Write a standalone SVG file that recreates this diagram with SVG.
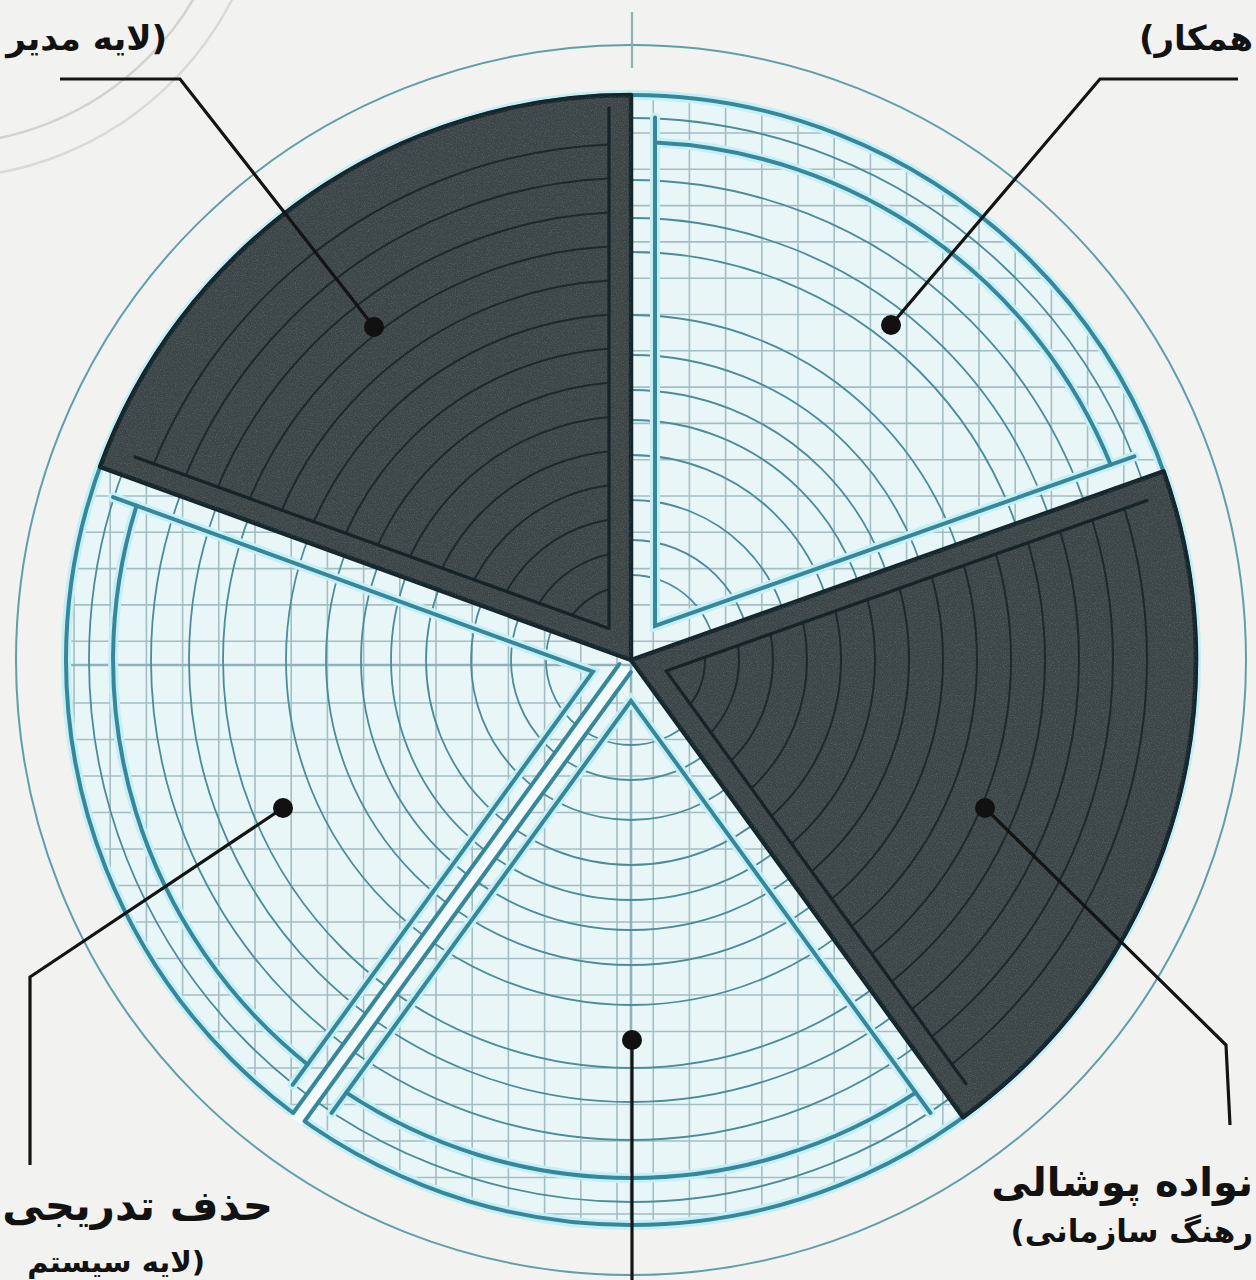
<svg xmlns="http://www.w3.org/2000/svg" width="1256" height="1280" viewBox="0 0 1256 1280">
<style>
.lbl{font-family:"DejaVu Sans","Noto Sans",sans-serif;font-weight:bold;fill:#121212}
.grid{stroke:#a3bec3;stroke-width:1.6;fill:none}
.thin{stroke:#4a8c99;stroke-width:1.8;fill:none}
.thick{stroke:#37879a;stroke-width:4;fill:none;stroke-linecap:round}
.glow{stroke:#c6eff5;stroke-width:10;fill:none;stroke-linecap:round}
.darkfill{fill:#3b4447;stroke:#14252b;stroke-width:4.5;stroke-linejoin:round}
.darkarc{stroke:#1d292e;stroke-width:2;fill:none}
.darkin{stroke:#16242a;stroke-width:3.2;fill:none;stroke-linecap:round;stroke-linejoin:round}
.lead{stroke:#141414;stroke-width:3.2;fill:none;stroke-linejoin:miter}
.dot{fill:#111}
</style>
<defs>
<clipPath id="disk"><circle cx="631" cy="660" r="565"/></clipPath>
<clipPath id="clipTL"><polygon points="609,628.6 609,-60 -210,-60 -207.2,331.5"/></clipPath>
<clipPath id="clipR"><polygon points="666.1,670.9 1486.6,380.3 1500,1400 1177.8,1375.2"/></clipPath>
<filter id="grain" filterUnits="userSpaceOnUse" x="0" y="0" width="1256" height="1280">
<feTurbulence type="fractalNoise" baseFrequency="0.85" numOctaves="3" seed="7" result="noise"/>
<feColorMatrix in="noise" type="matrix" values="0 0 0 0 0.78  0 0 0 0 0.82  0 0 0 0 0.82  0.7 0 0 0 -0.3" result="spk"/>
<feComposite in="spk" in2="SourceGraphic" operator="in"/>
</filter>
</defs>
<rect width="1256" height="1280" fill="#f2f2f0"/>
<g id="backdrop">
<circle cx="-60" cy="-150" r="294" fill="none" stroke="#d2d2d0" stroke-width="2.5"/>
<circle cx="-60" cy="-150" r="328" fill="none" stroke="#d9d9d7" stroke-width="2.5"/>
<circle cx="631" cy="660" r="615" fill="none" stroke="#5f9eab" stroke-width="2"/>
<line x1="632" y1="12" x2="632" y2="68" stroke="#8fb0b6" stroke-width="2.2"/>
</g>
<g id="disk-base">
<circle cx="631" cy="660" r="565" fill="#e9f6f8"/>
<g clip-path="url(#disk)">
<path class="grid" d="M74 80V1240M110.2 80V1240M146.4 80V1240M182.6 80V1240M218.8 80V1240M255 80V1240M291.2 80V1240M327.4 80V1240M363.6 80V1240M399.8 80V1240M436 80V1240M472.2 80V1240M508.4 80V1240M544.6 80V1240M580.8 80V1240M617 80V1240M653.2 80V1240M689.4 80V1240M725.6 80V1240M761.8 80V1240M798 80V1240M834.2 80V1240M870.4 80V1240M906.6 80V1240M942.8 80V1240M979 80V1240M1015.2 80V1240M1051.4 80V1240M1087.6 80V1240M1123.8 80V1240M1160 80V1240M1196.2 80V1240"/>
<path class="grid" d="M50 96.7H1210M50 133H1210M50 169.3H1210M50 205.6H1210M50 241.9H1210M50 278.2H1210M50 314.5H1210M50 350.8H1210M50 387.1H1210M50 423.4H1210M50 459.7H1210M50 496H1210M50 532.3H1210M50 568.6H1210M50 604.9H1210M50 641.2H1210M50 703H1210M50 739.5H1210M50 776H1210M50 812.5H1210M50 849H1210M50 885.5H1210M50 922H1210M50 958.5H1210M50 995H1210M50 1031.5H1210M50 1068H1210M50 1104.5H1210M50 1141H1210M50 1177.5H1210M50 1214H1210"/>
<path d="M50 665H1210M631 80V1240" stroke="#8fb3ba" stroke-width="2.6" fill="none"/>
</g>
<g id="light-arcs">
<circle class="thin" cx="631" cy="660" r="85"/>
<circle class="thin" cx="631" cy="660" r="120"/>
<circle class="thin" cx="631" cy="660" r="160"/>
<circle class="thin" cx="631" cy="660" r="205"/>
<circle class="thin" cx="631" cy="660" r="240"/>
<circle class="thin" cx="631" cy="660" r="270"/>
<circle class="thin" cx="631" cy="660" r="305"/>
<circle class="thin" cx="631" cy="660" r="345"/>
<circle class="thin" cx="631" cy="660" r="408"/>
<circle class="thin" cx="631" cy="660" r="442"/>
<circle class="thin" cx="631" cy="660" r="480"/>
<circle class="thin" cx="631" cy="660" r="542"/>
</g>
</g>
<g id="wedge-top-right">
<path class="glow" d="M655 142.6A518 518 0 0 1 1110.7 464.7M655 117.5L655 626L1134.4 456.3"/>
<path class="thick" d="M655 142.6A518 518 0 0 1 1110.7 464.7"/>
<path class="thick" d="M655 117.5L655 626L1134.4 456.3" stroke-linejoin="miter"/>
</g>
<g id="wedge-bottom">
<path class="glow" d="M915.7 1092.7A518 518 0 0 1 346.3 1092.7M930.5 1113L631 700.8L331.5 1113"/>
<path class="thick" d="M915.7 1092.7A518 518 0 0 1 346.3 1092.7"/>
<path class="thick" d="M930.5 1113L631 700.8L331.5 1113" stroke-linejoin="miter"/>
</g>
<g id="wedge-left">
<path class="glow" d="M307.5 1064.5A518 518 0 0 1 136.6 505.6M292.7 1084.8L592.9 671.7L113 497.1"/>
<path class="thick" d="M307.5 1064.5A518 518 0 0 1 136.6 505.6"/>
<path class="thick" d="M292.7 1084.8L592.9 671.7L113 497.1" stroke-linejoin="miter"/>
</g>
<g id="rim">
<circle cx="631" cy="660" r="565" fill="none" stroke="#c6eff5" stroke-width="10"/>
<circle cx="631" cy="660" r="565" fill="none" stroke="#37879a" stroke-width="4"/>
<polygon points="619.4,664 630.8,672.2 301.7,1125.2 290.3,1117" fill="#f3fbfc"/>
<path class="thick" d="M619.4 664L293.2 1113M630.8 672.2L304.6 1121.2"/>
</g>
<g id="wedge-top-left">
<path class="darkfill" d="M631 660L100.1 466.8A565 565 0 0 1 631 95Z"/>
<path d="M631 660L100.1 466.8A565 565 0 0 1 631 95Z" fill="#fff" filter="url(#grain)" opacity="0.5"/>
<g clip-path="url(#clipTL)">
<circle class="darkarc" cx="631" cy="660" r="74"/>
<circle class="darkarc" cx="631" cy="660" r="108"/>
<circle class="darkarc" cx="631" cy="660" r="142"/>
<circle class="darkarc" cx="631" cy="660" r="176"/>
<circle class="darkarc" cx="631" cy="660" r="210"/>
<circle class="darkarc" cx="631" cy="660" r="244"/>
<circle class="darkarc" cx="631" cy="660" r="278"/>
<circle class="darkarc" cx="631" cy="660" r="312"/>
<circle class="darkarc" cx="631" cy="660" r="346"/>
<circle class="darkarc" cx="631" cy="660" r="380"/>
<circle class="darkarc" cx="631" cy="660" r="414"/>
<circle class="darkarc" cx="631" cy="660" r="448"/>
<circle class="darkarc" cx="631" cy="660" r="482"/>
<circle class="darkarc" cx="631" cy="660" r="516"/>
</g>
<path class="darkin" d="M609 108L609 628.6L135 457"/>
</g>
<g id="wedge-right">
<path class="darkfill" d="M631 660L1163.6 471.4A565 565 0 0 1 963.1 1117.1Z"/>
<path d="M631 660L1163.6 471.4A565 565 0 0 1 963.1 1117.1Z" fill="#fff" filter="url(#grain)" opacity="0.5"/>
<g clip-path="url(#clipR)">
<circle class="darkarc" cx="631" cy="660" r="74"/>
<circle class="darkarc" cx="631" cy="660" r="108"/>
<circle class="darkarc" cx="631" cy="660" r="142"/>
<circle class="darkarc" cx="631" cy="660" r="176"/>
<circle class="darkarc" cx="631" cy="660" r="210"/>
<circle class="darkarc" cx="631" cy="660" r="244"/>
<circle class="darkarc" cx="631" cy="660" r="278"/>
<circle class="darkarc" cx="631" cy="660" r="312"/>
<circle class="darkarc" cx="631" cy="660" r="346"/>
<circle class="darkarc" cx="631" cy="660" r="380"/>
<circle class="darkarc" cx="631" cy="660" r="414"/>
<circle class="darkarc" cx="631" cy="660" r="448"/>
<circle class="darkarc" cx="631" cy="660" r="482"/>
<circle class="darkarc" cx="631" cy="660" r="516"/>
</g>
<path class="darkin" d="M1146.9 500.6L666.1 670.9L965.9 1083.6"/>
</g>
<g id="connectors">
<polyline class="lead" points="60,79 180,79 374,327"/>
<circle class="dot" cx="374" cy="327" r="10"/>
<polyline class="lead" points="1238,79 1100,79 891,325"/>
<circle class="dot" cx="891" cy="325" r="10"/>
<polyline class="lead" points="985,808 1226,1045 1230,1125"/>
<circle class="dot" cx="985" cy="808" r="10"/>
<polyline class="lead" points="283,808 30,977 30,1165"/>
<circle class="dot" cx="283" cy="808" r="10"/>
<line class="lead" x1="632" y1="1040" x2="632" y2="1280"/>
<circle class="dot" cx="632" cy="1040" r="10"/>
</g>
<g id="label-top-left"><text class="lbl" x="167" y="50" font-size="34" direction="rtl" text-anchor="start">(لایه مدیر</text></g>
<g id="label-top-right"><text class="lbl" x="1253" y="50" font-size="34" direction="rtl" text-anchor="start">همکار)</text></g>
<g id="label-bottom-right">
<text class="lbl" x="1253" y="1196" font-size="40" direction="rtl" text-anchor="start">نواده پوشالی</text>
<text class="lbl" x="1253" y="1242" font-size="31" direction="rtl" text-anchor="start">رهنگ سازمانی)</text>
</g>
<g id="label-bottom-left">
<text class="lbl" x="273" y="1220" font-size="42" direction="rtl" text-anchor="start">حذف تدریجی</text>
<text class="lbl" x="205" y="1272" font-size="29" direction="rtl" text-anchor="start">(لایه سیستم</text>
</g>
</svg>
